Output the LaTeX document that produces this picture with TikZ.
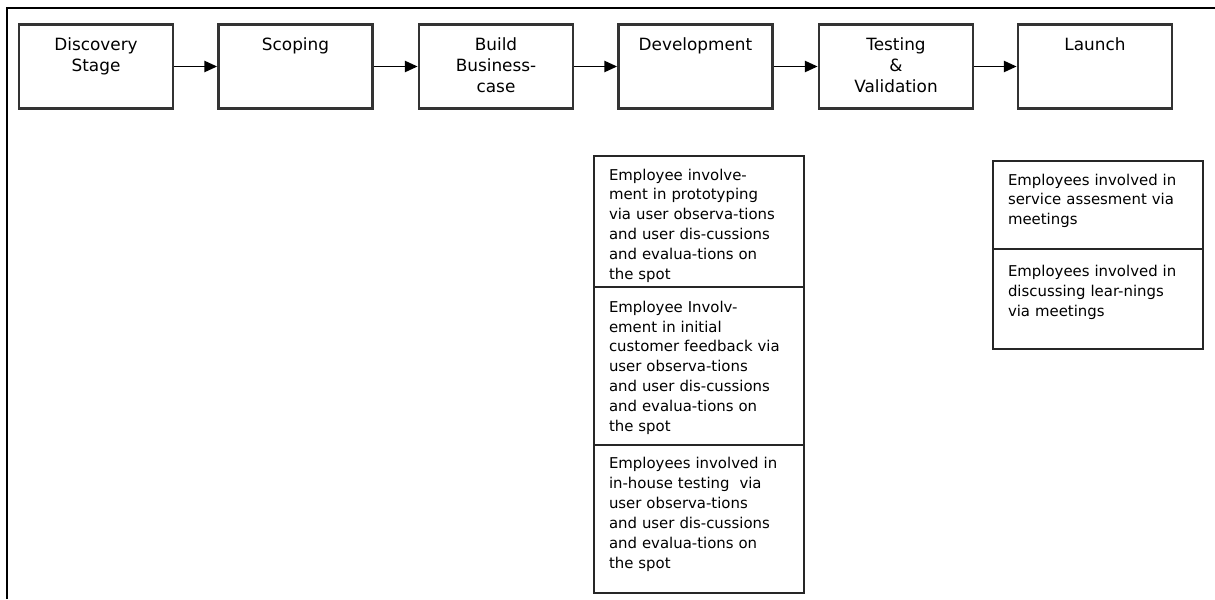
\documentclass[tikz,border=0pt]{standalone}
\usepackage{fontspec}
\setmainfont{DejaVu Sans}
\usetikzlibrary{arrows.meta, positioning}

\begin{document}
\begin{tikzpicture}[
    x=0.025cm, y=-0.025cm,
    stage/.style={draw=black!80, line width=2pt, minimum width=3.85cm, text width=3.6cm, align=center, inner xsep=0pt, inner ysep=0pt, text height=0.64cm, text depth=1.46cm, font=\fontsize{12}{15}\selectfont},
    note/.style={draw=black!85, line width=0.9pt, anchor=north west, outer sep=0pt, text width=4.5cm, inner xsep=0.375cm, inner ysep=0pt, align=left, font=\fontsize{10.6}{14.2}\selectfont},
    arr/.style={-{Triangle[length=9pt, width=8pt]}, line width=1pt}
  ]
    \useasboundingbox (0,0) rectangle (1215,599);
    \draw[line width=1.6pt] (7,599) |- (1215,8);

    % stages
    \node[stage] (disc)   at (96,66.5)   {Discovery\\Stage};
    \node[stage] (scope)  at (295.5,66.5) {Scoping};
    \node[stage] (bcase)  at (496,66.5)  {Build\\Business-\\case};
    \node[stage] (devel)  at (695.5,66.5) {Development};
    \node[stage] (test)   at (896,66.5)  {Testing\\\&\\Validation};
    \node[stage] (launch) at (1095,66.5) {Launch};

    \draw[arr] (disc) -- (scope);
    \draw[arr] (scope) -- (bcase);
    \draw[arr] (bcase) -- (devel);
    \draw[arr] (devel) -- (test);
    \draw[arr] (test) -- (launch);

    % employee involvement, development
    \node[note, text height=0.6cm, text depth=2.675cm] (proto) at (594,156)
      {Employee involve-\\ment in prototyping\\via user observa-tions\\and user dis-cussions\\and evalua-tions on\\the spot};
    \node[note, text height=0.625cm, text depth=3.325cm] (feedb) at (proto.south west)
      {Employee Involv-\\ement in initial\\customer feedback via\\user observa-tions\\and user dis-cussions\\and evalua-tions on\\the spot};
    \node[note, text height=0.58cm, text depth=3.12cm] (inhouse) at (feedb.south west)
      {Employees involved in\\in-house testing\ \ via\\user observa-tions\\and user dis-cussions\\and evalua-tions on\\the spot};

    % employee involvement, launch
    \node[note, text height=0.6cm, text depth=1.6cm] (assess) at (993,161)
      {Employees involved in\\service assesment via\\meetings};
    \node[note, text height=0.68cm, text depth=1.82cm] (learn) at (assess.south west)
      {Employees involved in\\discussing lear-nings\\via meetings};
  \end{tikzpicture}
\end{document}
